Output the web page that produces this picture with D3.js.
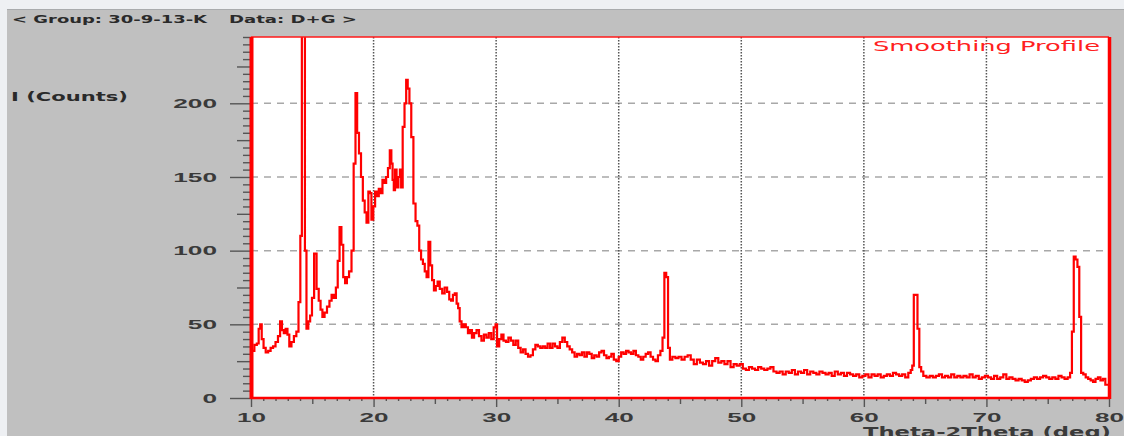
<!DOCTYPE html>
<html>
<head>
<meta charset="utf-8">
<script src="https://cdn.jsdelivr.net/npm/d3@7"></script>
<style>
  body { margin: 0; background: #eef0f3; }
  svg { display: block; font-family: "DejaVu Sans", sans-serif; }
</style>
</head>
<body>
<div id="chart"></div>
<script>
// 2-theta positions (deg) and smoothed intensity (counts)
const twoTheta = [
  10.0, 10.15, 10.4, 10.55, 10.7, 10.8, 10.95, 11.1, 11.3, 11.5,
  11.7, 11.9, 12.1, 12.3, 12.45, 12.6, 12.75, 12.9, 13.05, 13.2,
  13.4, 13.6, 13.8, 13.95, 14.1, 14.2, 14.35, 14.45, 14.6, 14.75,
  14.9, 15.05, 15.25, 15.45, 15.6, 15.75, 15.9, 16.1, 16.3, 16.5,
  16.65, 16.85, 17.0, 17.15, 17.3, 17.45, 17.6, 17.75, 17.9, 18.1,
  18.3, 18.45, 18.6, 18.72, 18.9, 19.05, 19.2, 19.35, 19.5, 19.65,
  19.75, 19.9, 20.05, 20.2, 20.35, 20.5, 20.65, 20.8, 20.95, 21.1,
  21.25, 21.4, 21.5, 21.6, 21.7, 21.8, 21.95, 22.1, 22.2, 22.3,
  22.45, 22.6, 22.72, 22.85, 23.0, 23.15, 23.35, 23.5, 23.65, 23.8,
  23.95, 24.1, 24.25, 24.4, 24.55, 24.7, 24.85, 25.0, 25.15, 25.3,
  25.5, 25.7, 25.9, 26.1, 26.25, 26.4, 26.55, 26.7, 26.85, 26.95,
  27.1, 27.25, 27.45, 27.6, 27.8, 27.95, 28.1, 28.3, 28.5, 28.7,
  28.9, 29.1, 29.3, 29.5, 29.7, 29.9, 30.0, 30.15, 30.35, 30.5,
  30.7, 30.9, 31.1, 31.3, 31.5, 31.7, 31.9, 32.1, 32.3, 32.5,
  32.7, 32.9, 33.1, 33.3, 33.5, 33.7, 33.9, 34.1, 34.3, 34.5,
  34.7, 34.9, 35.1, 35.3, 35.5, 35.7, 35.9, 36.1, 36.3, 36.5,
  36.7, 36.9, 37.1, 37.3, 37.5, 37.7, 37.9, 38.1, 38.3, 38.5,
  38.7, 38.9, 39.1, 39.3, 39.5, 39.7, 39.9, 40.1, 40.3, 40.5,
  40.7, 40.9, 41.1, 41.3, 41.5, 41.7, 41.9, 42.1, 42.3, 42.5,
  42.7, 42.9, 43.1, 43.3, 43.5,
  43.65, 43.8, 43.95, 44.1, 44.25,
  44.5, 44.75, 45.0, 45.25, 45.5, 45.75, 46.0, 46.25, 46.5, 46.75,
  47.0, 47.25, 47.5, 47.75, 48.0, 48.25, 48.5, 48.75, 49.0, 49.25,
  49.5, 49.75, 50.0, 50.25, 50.5, 50.75, 51.0, 51.25, 51.5, 51.75,
  52.0, 52.25, 52.5, 52.75, 53.0, 53.25, 53.5, 53.75, 54.0, 54.25,
  54.5, 54.75, 55.0, 55.25, 55.5, 55.75, 56.0, 56.25, 56.5, 56.75,
  57.0, 57.25, 57.5, 57.75, 58.0, 58.25, 58.5, 58.75, 59.0, 59.25,
  59.5, 59.75, 60.0, 60.25, 60.5, 60.75, 61.0, 61.25, 61.5, 61.75,
  62.0, 62.25, 62.5, 62.75, 63.0, 63.25, 63.5, 63.75,
  63.9, 64.0, 64.15, 64.3, 64.45, 64.6, 64.75, 64.95,
  65.25, 65.5, 65.75, 66.0, 66.25, 66.5, 66.75, 67.0, 67.25, 67.5,
  67.75, 68.0, 68.25, 68.5, 68.75, 69.0, 69.25, 69.5, 69.75, 70.0,
  70.25, 70.5, 70.75, 71.0, 71.25, 71.5, 71.75, 72.0, 72.25, 72.5,
  72.75, 73.0, 73.25, 73.5, 73.75, 74.0, 74.25, 74.5, 74.75, 75.0,
  75.25, 75.5, 75.75, 76.0, 76.25, 76.5, 76.75,
  76.9, 77.05, 77.2, 77.35, 77.5, 77.65, 77.8, 78.0, 78.2, 78.4,
  78.6, 78.8, 79.0, 79.2, 79.4, 79.6, 79.8, 80.0
];
const counts = [
  33, 32, 36, 37, 47, 50, 40, 34, 31, 32,
  34, 35, 38, 42, 52, 46, 44, 47, 43, 35,
  38, 42, 45, 65, 110, 600, 600, 100, 47, 52,
  56, 68, 98, 74, 66, 60, 55, 58, 62, 66,
  70, 68, 75, 93, 116, 104, 82, 78, 82, 86,
  100, 159, 207, 180, 166, 150, 134, 126, 119, 140,
  139, 121, 130, 140, 137, 142, 139, 148, 146, 150,
  156, 168, 159, 148, 141, 155, 143, 150, 155, 143,
  184, 200, 216, 210, 200, 177, 132, 120, 117, 100,
  94, 91, 86, 82, 106, 90, 80, 73, 76, 79,
  74, 71, 75, 72, 67, 66, 70, 71, 64, 61,
  52, 48, 50, 48, 44, 46, 41, 44, 46, 42,
  39, 43, 41, 44, 40, 48, 50, 35, 40, 43,
  39, 38, 41, 39, 36, 39, 34, 31, 33, 30,
  28, 29, 33, 36, 35, 34, 35, 34, 37, 34,
  37, 35, 34, 38, 41, 38, 35, 33, 31, 28,
  30, 29, 31, 28, 31, 30, 27, 29, 28, 31,
  32, 29, 27, 28, 30, 26, 25, 28, 31, 30,
  32, 31, 30, 32, 29, 28, 26, 28, 30, 31,
  28, 26, 25, 29, 32,
  41, 85, 82, 34, 26,
  28, 27, 28, 26, 28, 29, 26, 23, 26, 24,
  23, 25, 22, 25, 27, 24, 25, 23, 25, 21,
  23, 22, 23, 20, 19, 21, 20, 19, 21, 20,
  19, 20, 21, 18, 17, 18, 16, 18, 17, 19,
  16, 18, 17, 19, 16, 18, 17, 16, 18, 17,
  16, 17, 15, 18, 16, 17, 15, 17, 16, 15,
  16, 14, 15, 16, 14, 16, 15, 16, 14, 15,
  16, 15, 17, 16, 15, 16, 14, 17,
  19, 22, 70, 70, 47, 21, 18, 15,
  14, 15, 14, 15, 16, 14, 15, 14, 16, 14,
  15, 14, 15, 14, 16, 14, 15, 13, 14, 15,
  14, 13, 15, 13, 14, 16, 13, 14, 13, 12,
  13, 12, 11, 12, 13, 14, 13, 14, 15, 14,
  13, 14, 13, 15, 14, 13, 14,
  17, 45, 96, 94, 89, 55, 17, 16, 14, 13,
  12, 11, 13, 14, 12, 13, 9, 9
];
const xTicks = [10, 20, 30, 40, 50, 60, 70, 80];
const yTicks = [0, 50, 100, 150, 200];
const groupLabel = "< Group: 30-9-13-K";
const dataLabel = "Data: D+G >";
const yTitle = "I (Counts)";
const xTitle = "Theta-2Theta (deg)";
const profileLabel = "Smoothing Profile";

if (twoTheta.length !== counts.length) throw new Error("length mismatch " + twoTheta.length + " vs " + counts.length);

const W = 1124, H = 436;
const plotL = 251, plotR = 1109, plotT = 37, plotB = 398;

const svg = d3.select("#chart").append("svg").attr("width", W).attr("height", H);

// window panel
svg.append("rect").attr("x", 7).attr("y", 9).attr("width", W - 7).attr("height", H - 9).attr("fill", "#c0c0c0");
svg.append("line").attr("x1", 7).attr("x2", W).attr("y1", 9.5).attr("y2", 9.5).attr("stroke", "#a9abad");

// squeeze/stretch text to the width it has in the picture
function fit(sel, w, weight) {
    sel.attr("textLength", w).attr("lengthAdjust", "spacingAndGlyphs").attr("font-weight", weight || "bold");
}

fit(svg.append("text").attr("x", 12).attr("y", 23).attr("font-size", 11).attr("fill", "#2a2a2a").text(groupLabel), 195);
fit(svg.append("text").attr("x", 229).attr("y", 23).attr("font-size", 11).attr("fill", "#2a2a2a").text(dataLabel), 128);
fit(svg.append("text").attr("x", 11).attr("y", 101).attr("font-size", 12).attr("fill", "#2a2a2a").text(yTitle), 117);

const x = d3.scaleLinear().domain([10, 80]).range([plotL, plotR]);
const y = d3.scaleLinear().domain([0, 245]).range([plotB, plotT]);

// plot area
svg.append("rect").attr("x", plotL).attr("y", plotT).attr("width", plotR - plotL).attr("height", plotB - plotT).attr("fill", "#fff");

// grid
svg.append("g").selectAll("line").data(yTicks.slice(1)).enter().append("line")
    .attr("x1", plotL).attr("x2", plotR).attr("y1", d => y(d)).attr("y2", d => y(d))
    .attr("stroke", "#a8a8a8").attr("stroke-width", 1.5).attr("stroke-dasharray", "7,6");
svg.append("g").selectAll("line").data(xTicks.slice(1, -1)).enter().append("line")
    .attr("x1", d => x(d)).attr("x2", d => x(d)).attr("y1", plotT).attr("y2", plotB)
    .attr("stroke", "#555").attr("stroke-width", 1.5).attr("stroke-dasharray", "1.5,1.5");

// y axis: minor, medium and major ticks
const yMinor = d3.range(0, 246, 5).filter(v => v % 25 !== 0);
const yMid = d3.range(25, 246, 50);
svg.append("g").attr("transform", `translate(${plotL},0)`)
    .call(d3.axisLeft(y).tickValues(yMinor).tickSize(8).tickFormat(""));
svg.append("g").attr("transform", `translate(${plotL},0)`)
    .call(d3.axisLeft(y).tickValues(yMid).tickSize(14).tickFormat(""));
const yAxis = svg.append("g").attr("transform", `translate(${plotL},0)`)
    .call(d3.axisLeft(y).tickValues(yTicks).tickSize(21).tickPadding(13));
svg.selectAll(".domain").remove();
yAxis.selectAll("text").attr("font-size", 13.5).attr("fill", "#3a3a3a")
    .each(function () { fit(d3.select(this), this.textContent.length * 14.6); });

// x axis ticks below the frame
const xMinor = d3.range(10, 81, 1).filter(v => v % 5 !== 0);
const xMid = d3.range(15, 80, 10);
svg.append("g").attr("transform", `translate(0,${plotB})`)
    .call(d3.axisBottom(x).tickValues(xMinor).tickSize(3).tickFormat(""))
    .call(g => g.select(".domain").remove());
svg.append("g").attr("transform", `translate(0,${plotB})`)
    .call(d3.axisBottom(x).tickValues(xMid).tickSize(6).tickFormat(""))
    .call(g => g.select(".domain").remove());
const xAxis = svg.append("g").attr("transform", `translate(0,${plotB})`)
    .call(d3.axisBottom(x).tickValues(xTicks).tickSize(9))
    .call(g => g.select(".domain").remove());
svg.selectAll(".tick line").attr("stroke", "#555").attr("stroke-width", 1.4);
xAxis.selectAll("text").attr("font-size", 13.5).attr("fill", "#3a3a3a").attr("y", 24).attr("dy", null)
    .each(function () { fit(d3.select(this), this.textContent.length * 14.5); });

// profile
svg.append("clipPath").attr("id", "plotClip").append("rect")
    .attr("x", plotL).attr("y", plotT).attr("width", plotR - plotL).attr("height", plotB - plotT);

const line = d3.line().x(d => x(d[0])).y(d => y(d[1])).curve(d3.curveStep);
svg.append("path")
    .datum(twoTheta.map((t, i) => [t, counts[i]]))
    .attr("clip-path", "url(#plotClip)")
    .attr("d", line)
    .attr("fill", "none").attr("stroke", "#ff0000").attr("stroke-width", 2.2).attr("stroke-linejoin", "miter");

// red frame, heavier on the sides
svg.append("line").attr("x1", plotL).attr("x2", plotR).attr("y1", plotT).attr("y2", plotT).attr("stroke", "#ff1a1a").attr("stroke-width", 1.6);
svg.append("line").attr("x1", plotL).attr("x2", plotR).attr("y1", plotB).attr("y2", plotB).attr("stroke", "#ff0000").attr("stroke-width", 2.5);
svg.append("line").attr("x1", plotL + 0.5).attr("x2", plotL + 0.5).attr("y1", plotT).attr("y2", plotB + 1).attr("stroke", "#ff0000").attr("stroke-width", 4);
svg.append("line").attr("x1", plotR + 0.5).attr("x2", plotR + 0.5).attr("y1", plotT).attr("y2", plotB + 1).attr("stroke", "#ff0000").attr("stroke-width", 3.5);

fit(svg.append("text").attr("x", 873).attr("y", 51).attr("font-size", 14).attr("fill", "#ff2020").text(profileLabel), 227, "normal");
fit(svg.append("text").attr("x", 863).attr("y", 437).attr("font-size", 13.5).attr("fill", "#3a3a3a").text(xTitle), 248);
</script>
</body>
</html>
